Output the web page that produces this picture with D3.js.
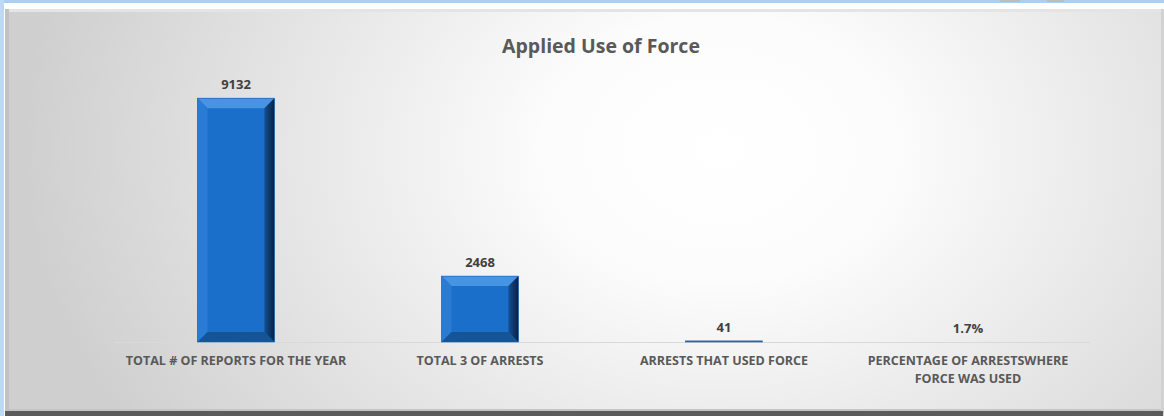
<!DOCTYPE html>
<html>
<head>
<meta charset="utf-8">
<script src="https://cdn.jsdelivr.net/npm/d3@7"></script>
<style>
  html, body { margin: 0; padding: 0; background: #fff; }
  svg { display: block; font-family: "Open Sans", "Noto Sans", sans-serif; }
</style>
</head>
<body>
<div id="chart"></div>
<script>
const categories = [
  ["TOTAL # OF REPORTS FOR THE YEAR"],
  ["TOTAL 3 OF ARRESTS"],
  ["ARRESTS THAT USED FORCE"],
  ["PERCENTAGE OF ARRESTSWHERE", "FORCE WAS USED"]
];
const values = [9132, 2468, 41, 1.7];
const valueLabels = ["9132", "2468", "41", "1.7%"];
const title = "Applied Use of Force";

const W = 1164, H = 416;
const plot = {left: 114, right: 1090, top: 75, base: 342};
const bevel = 10;

const svg = d3.select("#chart").append("svg")
  .attr("width", W).attr("height", H);

const defs = svg.append("defs");
const bg = defs.append("radialGradient").attr("id", "bg")
  .attr("gradientUnits", "userSpaceOnUse")
  .attr("cx", 720).attr("cy", 150).attr("r", 700)
  .attr("gradientTransform", "translate(720 150) scale(1 0.75) translate(-720 -150)");
bg.append("stop").attr("offset", "0").attr("stop-color", "#ffffff");
bg.append("stop").attr("offset", "0.25").attr("stop-color", "#fcfcfc");
bg.append("stop").attr("offset", "1").attr("stop-color", "#cfcfcf");

const side = defs.append("linearGradient").attr("id", "rside")
  .attr("x1", 0).attr("x2", 1).attr("y1", 0).attr("y2", 0);
side.append("stop").attr("offset", "0").attr("stop-color", "#134f93");
side.append("stop").attr("offset", "1").attr("stop-color", "#07223f");

// outer page strips
svg.append("rect").attr("x", 0).attr("y", 0).attr("width", W).attr("height", 3).attr("fill", "#a9cff3");
svg.append("rect").attr("x", 0).attr("y", 0).attr("width", 4).attr("height", H).attr("fill", "#bcdaf6");
svg.append("rect").attr("x", 1000).attr("y", 0).attr("width", 20).attr("height", 2).attr("fill", "#bdbdbd");
svg.append("rect").attr("x", 1047).attr("y", 0).attr("width", 17).attr("height", 2).attr("fill", "#bdbdbd");

// chart frame
svg.append("rect").attr("x", 5).attr("y", 9).attr("width", W - 6).attr("height", H - 9).attr("fill", "url(#bg)");
svg.append("rect").attr("x", 5).attr("y", 9).attr("width", W - 6).attr("height", 3).attr("fill", "#e4e4e4");
svg.append("rect").attr("x", 5).attr("y", 9).attr("width", 4).attr("height", H - 9).attr("fill", "#c2c2c2");
svg.append("rect").attr("x", W - 3).attr("y", 9).attr("width", 3).attr("height", H - 9).attr("fill", "#d2d2d2");
svg.append("rect").attr("x", 5).attr("y", H - 5).attr("width", W - 6).attr("height", 5).attr("fill", "#5b5b5b");
svg.append("rect").attr("x", 9).attr("y", H - 7).attr("width", W - 12).attr("height", 2).attr("fill", "#c4c4c4");

const x = d3.scaleBand()
  .domain(d3.range(values.length))
  .range([plot.left, plot.right])
  .paddingInner(0.685).paddingOuter(0.3425);
const y = d3.scaleLinear().domain([0, 10000]).range([plot.base, plot.top]);

svg.append("text")
  .attr("x", 601).attr("y", 53)
  .attr("text-anchor", "middle")
  .attr("font-size", 19.5).attr("font-weight", "bold")
  .attr("fill", "#595959")
  .text(title);

// axis line
svg.append("line")
  .attr("x1", plot.left).attr("x2", plot.right)
  .attr("y1", plot.base + 0.5).attr("y2", plot.base + 0.5)
  .attr("stroke", "#d9d9d9");

const bars = svg.append("g").selectAll("g")
  .data(values)
  .join("g");

bars.each(function(v, i) {
  const g = d3.select(this);
  const x0 = x(i), x1 = x(i) + x.bandwidth();
  const y0 = y(v), y1 = plot.base;
  const h = y1 - y0;
  if (h < 0.5) return;
  const b = Math.min(bevel, h / 2, x.bandwidth() / 2);
  g.append("rect").attr("x", x0).attr("y", y0).attr("width", x1 - x0).attr("height", h)
    .attr("fill", "#1a6fcb");
  if (h > 4) {
    g.append("polygon").attr("fill", "#4794e2")
      .attr("points", [[x0, y0], [x1, y0], [x1 - b, y0 + b], [x0 + b, y0 + b]].join(" "));
    g.append("polygon").attr("fill", "#2a7bd3")
      .attr("points", [[x0, y0], [x0 + b, y0 + b], [x0 + b, y1 - b], [x0, y1]].join(" "));
    g.append("polygon").attr("fill", "url(#rside)")
      .attr("points", [[x1, y0], [x1, y1], [x1 - b, y1 - b], [x1 - b, y0 + b]].join(" "));
    g.append("polygon").attr("fill", "#145497")
      .attr("points", [[x0, y1], [x1, y1], [x1 - b, y1 - b], [x0 + b, y1 - b]].join(" "));
  }
  g.append("rect").attr("x", x0).attr("y", y0).attr("width", x1 - x0).attr("height", h)
    .attr("fill", "none").attr("stroke", "#1d5fa8").attr("stroke-width", 0.6);
});

svg.append("g").selectAll("text")
  .data(values)
  .join("text")
    .attr("x", (d, i) => x(i) + x.bandwidth() / 2)
    .attr("y", d => y(d) - 9)
    .attr("text-anchor", "middle")
    .attr("font-size", 13).attr("font-weight", "bold")
    .attr("fill", "#404040")
    .text((d, i) => valueLabels[i]);

svg.append("g").selectAll("text")
  .data(categories)
  .join("text")
    .attr("x", (d, i) => x(i) + x.bandwidth() / 2)
    .attr("y", 365)
    .attr("text-anchor", "middle")
    .attr("font-size", 12.5).attr("font-weight", "bold")
    .attr("fill", "#595959")
    .selectAll("tspan")
    .data(d => d)
    .join("tspan")
      .attr("x", function() { return d3.select(this.parentNode).attr("x"); })
      .attr("dy", (d, j) => j === 0 ? 0 : 18)
      .text(d => d);
</script>
</body>
</html>
